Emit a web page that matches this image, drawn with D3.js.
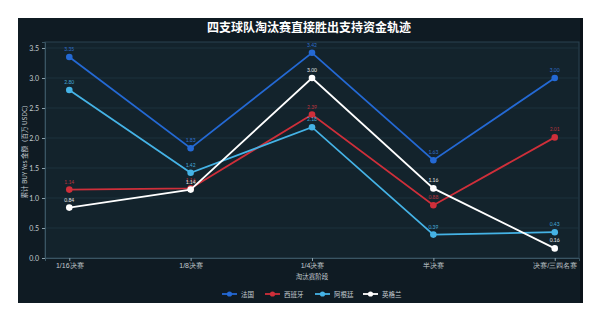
<!DOCTYPE html>
<html><head><meta charset="utf-8">
<script src="https://cdn.jsdelivr.net/npm/d3@7"></script>
<style>body{margin:0;background:#fff;}svg{display:block;font-family:"Noto Sans CJK SC","Noto Sans",sans-serif;}</style>
</head><body>
<svg id="c" width="600" height="316"></svg>
<script>
const categories = ["1/16决赛","1/8决赛","1/4决赛","半决赛","决赛/三四名赛"];
const seriesNames = ["法国","西班牙","阿根廷","英格兰"];
const franceVals = [3.35,1.83,3.42,1.63,3.00];
const spainVals = [1.14,1.16,2.39,0.88,2.01];
const argentinaVals = [2.80,1.42,2.18,0.39,0.43];
const englandVals = [0.84,1.14,3.00,1.16,0.16];
const yTicks = [0,0.5,1.0,1.5,2.0,2.5,3.0,3.5];
const colors = ["#2469d4","#cf2f3a","#45b3e6","#ffffff"];
const labelColors = ["#2f6fcc","#b8333c","#45a8d8","#e8e8e8"];

const series = [franceVals,spainVals,argentinaVals,englandVals].map((v,i)=>({name:seriesNames[i],values:v,color:colors[i],lc:labelColors[i]}));

const svg = d3.select("#c");
svg.append("rect").attr("x",18).attr("y",18).attr("width",565).attr("height",285).attr("fill","#0f1b23");
svg.append("rect").attr("x",580).attr("y",18).attr("width",3).attr("height",285).attr("fill","#0a1218");

const L=45,R=579,T=42,B=258;
const x = d3.scalePoint().domain(categories).range([L,R]).padding(0.2);
const y = d3.scaleLinear().domain([0,3.6]).range([B,T]);

svg.append("rect").attr("x",L).attr("y",T).attr("width",R-L).attr("height",B-T)
  .attr("fill","#13232c").attr("stroke","#2a4350").attr("stroke-width",1);

svg.append("g").selectAll("line").data(yTicks.filter(d=>d>0)).join("line")
  .attr("x1",L).attr("x2",R).attr("y1",d=>y(d)).attr("y2",d=>y(d))
  .attr("stroke","#1f3541").attr("stroke-width",0.8);

const yAx = svg.append("g").attr("transform",`translate(${L},0)`)
  .call(d3.axisLeft(y).tickValues(yTicks).tickFormat(d3.format(".1f")).tickSize(3).tickPadding(3));
yAx.select(".domain").attr("stroke","#3a5563");
yAx.selectAll(".tick line").attr("stroke","#8aa0ab");
yAx.selectAll("text").attr("fill","#c4ccd1").style("font-size","7px").style("font-family","Lato, 'Noto Sans', sans-serif");

const xAx = svg.append("g").attr("transform",`translate(0,${B})`)
  .call(d3.axisBottom(x).tickSize(3).tickPadding(2));
xAx.select(".domain").attr("stroke","#3a5563");
xAx.selectAll(".tick line").attr("stroke","#8aa0ab");
xAx.selectAll("text").attr("fill","#c4ccd1").style("font-size","7px");

svg.append("text").attr("x",309).attr("y",32).attr("text-anchor","middle")
  .attr("fill","#fff").style("font-size","12px").style("font-weight","bold")
  .text("四支球队淘汰赛直接胜出支持资金轨迹");

svg.append("text").attr("transform",`translate(27,${(T+B)/2}) rotate(-90)`).attr("text-anchor","middle")
  .attr("fill","#c4ccd1").style("font-size","6.5px").text("累计 BUY Yes 金额（百万 USDC）");

svg.append("text").attr("x",(L+R)/2).attr("y",279).attr("text-anchor","middle")
  .attr("fill","#c4ccd1").style("font-size","6.5px").text("淘汰赛阶段");

const line = d3.line().x((d,i)=>x(categories[i])).y(d=>y(d));
const g = svg.append("g");
series.forEach(s=>{
  g.append("path").attr("d",line(s.values)).attr("fill","none").attr("stroke",s.color).attr("stroke-width",1.8);
  g.selectAll(null).data(s.values).join("circle")
    .attr("cx",(d,i)=>x(categories[i])).attr("cy",d=>y(d)).attr("r",3.3).attr("fill",s.color);
  g.selectAll(null).data(s.values).join("text")
    .attr("x",(d,i)=>x(categories[i])).attr("y",d=>y(d)-6).attr("text-anchor","middle")
    .attr("fill",s.lc).style("font-size","5px").style("font-family","Lato, 'Noto Sans', sans-serif")
    .text(d=>d.toFixed(2));
});

const legX=[222,265,315,363];
const lg = svg.append("g");
series.forEach((s,i)=>{
  const gx = legX[i], gy=294;
  lg.append("line").attr("x1",gx).attr("x2",gx+15).attr("y1",gy).attr("y2",gy).attr("stroke",s.color).attr("stroke-width",1.8);
  lg.append("circle").attr("cx",gx+7.5).attr("cy",gy).attr("r",2.6).attr("fill",s.color);
  lg.append("text").attr("x",gx+19).attr("y",gy+2.5).attr("fill","#c4ccd1").style("font-size","6.5px").text(s.name);
});
</script>
</body></html>
